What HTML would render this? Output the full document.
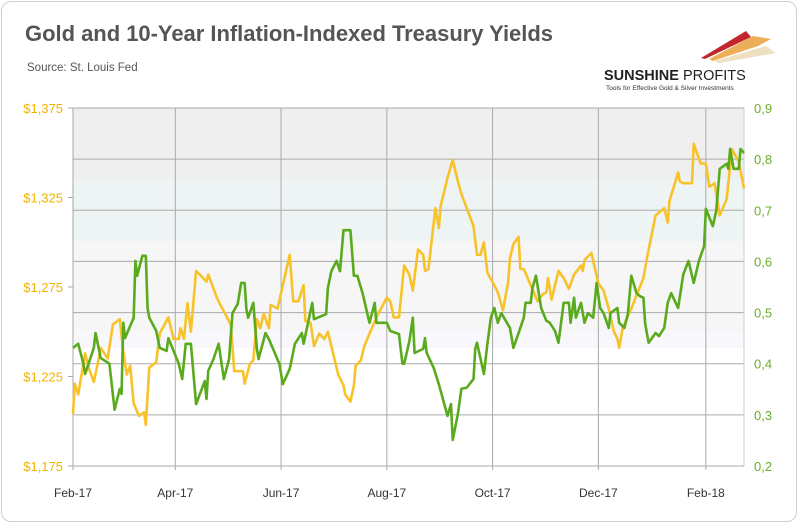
<!DOCTYPE html>
<html><head><meta charset="utf-8"><style>
body{margin:0;background:#fff;font-family:"Liberation Sans",sans-serif}
#card{position:absolute;left:1px;top:1px;width:796px;height:521px;border:1px solid #cfcfcf;border-radius:10px;box-sizing:border-box;overflow:hidden}
</style></head><body>
<div id="card">
<svg width="800" height="525" style="position:absolute;left:-1px;top:-1px">
<text x="24" y="40" font-size="22" font-weight="bold" fill="#555" textLength="528">Gold and 10-Year  Inflation-Indexed Treasury Yields</text>
<text x="26" y="70" font-size="11.5" fill="#555">Source: St. Louis Fed</text>
<g>
<polygon points="700,57 745,30 750,36 704,58" fill="#c0262c"/>
<polygon points="708,58 752,35 770,38 757,45 712,60" fill="#e9a03a" opacity="0.85"/>
<polygon points="714,60 765,45 775,52 718,62" fill="#e8d8b0" opacity="0.8"/>
<text x="603" y="79" font-size="14.5" font-weight="bold" fill="#222">SUNSHINE <tspan font-weight="normal">PROFITS</tspan></text>
<text x="605" y="89" font-size="6.5" fill="#333">Tools for Effective Gold &amp; Silver Investments</text>
</g>
<g id="bands"></g><g id="grid"></g><g id="axes"></g><g id="series"></g>
</svg></div>
<script>
const goldDays=[0,1,3,7,9,12,14,16,20,23,27,29,31,33,35,38,41,42,44,48,50,55,58,61,62,64,66,68,71,77,78,83,85,91,93,98,99,102,104,106,108,110,113,114,118,121,125,127,130,133,134,137,139,142,145,147,153,156,157,160,162,163,166,168,171,176,181,183,185,188,191,194,196,199,202,203,205,209,211,212,216,219,222,224,231,233,235,237,239,243,245,248,251,252,254,257,258,260,268,271,273,274,276,280,283,286,289,293,294,295,299,303,306,309,312,314,315,317,322,329,331,336,341,343,344,349,350,352,357,358,362,365,367,370,373,377,380,384,387];
const goldValues=[1204,1221,1215,1238,1230,1222,1231,1241,1235,1254,1257,1239,1226,1231,1210,1203,1205,1198,1230,1233,1249,1258,1246,1246,1252,1246,1266,1250,1284,1278,1282,1269,1265,1254,1228,1228,1221,1232,1234,1257,1252,1260,1252,1265,1263,1276,1293,1267,1267,1276,1256,1255,1242,1249,1246,1250,1226,1220,1215,1211,1220,1231,1234,1242,1249,1260,1269,1267,1258,1258,1287,1282,1273,1296,1293,1284,1285,1319,1308,1320,1336,1346,1334,1327,1309,1293,1293,1300,1283,1276,1272,1262,1278,1291,1299,1303,1285,1285,1267,1271,1272,1280,1268,1284,1280,1274,1282,1287,1284,1290,1294,1277,1273,1263,1250,1246,1241,1252,1263,1280,1291,1315,1319,1311,1323,1339,1334,1333,1333,1355,1344,1344,1331,1333,1315,1324,1352,1345,1330];
const yieldDays=[0,3,6,7,9,12,13,16,21,24,27,28,29,30,35,36,37,40,42,43,44,48,50,54,55,58,61,63,65,68,71,76,77,78,81,84,87,90,92,95,97,99,100,101,104,106,107,111,113,119,121,125,128,132,133,138,139,146,147,149,152,154,156,160,162,164,167,169,171,174,175,181,183,188,190,191,194,196,197,202,203,204,208,211,216,218,219,222,224,227,231,232,233,237,239,241,243,245,247,252,254,257,260,261,264,265,267,270,273,275,278,280,283,286,287,289,290,293,295,297,300,301,302,304,306,309,310,314,315,318,320,322,325,327,329,330,332,336,338,341,343,345,349,352,355,357,358,361,364,365,369,371,373,377,378,379,381,384,385,387];
const yieldValues=[0.431,0.439,0.400,0.380,0.400,0.431,0.460,0.411,0.400,0.310,0.351,0.341,0.480,0.450,0.490,0.601,0.572,0.611,0.611,0.509,0.490,0.464,0.431,0.425,0.450,0.425,0.400,0.370,0.439,0.439,0.321,0.366,0.331,0.386,0.409,0.439,0.370,0.409,0.499,0.517,0.558,0.558,0.507,0.490,0.519,0.431,0.409,0.460,0.448,0.400,0.360,0.390,0.439,0.460,0.439,0.519,0.487,0.497,0.548,0.581,0.601,0.581,0.661,0.661,0.572,0.572,0.538,0.509,0.480,0.519,0.480,0.480,0.464,0.458,0.400,0.400,0.444,0.490,0.421,0.429,0.450,0.421,0.392,0.360,0.298,0.321,0.251,0.302,0.351,0.353,0.370,0.429,0.441,0.380,0.439,0.490,0.509,0.480,0.499,0.470,0.431,0.460,0.490,0.519,0.519,0.548,0.572,0.509,0.484,0.480,0.464,0.441,0.519,0.519,0.480,0.529,0.490,0.519,0.480,0.499,0.490,0.523,0.558,0.509,0.499,0.470,0.499,0.509,0.480,0.470,0.497,0.572,0.538,0.532,0.529,0.478,0.441,0.460,0.454,0.470,0.519,0.538,0.509,0.575,0.601,0.572,0.558,0.601,0.630,0.703,0.669,0.699,0.781,0.791,0.781,0.820,0.781,0.781,0.820,0.812];
const goldTicks=[1175,1225,1275,1325,1375];
const goldTickLabels=["$1,175","$1,225","$1,275","$1,325","$1,375"];
const yieldTicks=[0.2,0.3,0.4,0.5,0.6,0.7,0.8,0.9];
const yieldTickLabels=["0,2","0,3","0,4","0,5","0,6","0,7","0,8","0,9"];
const monthDays=[0,59,120,181,242,303,365];
const monthLabels=["Feb-17","Apr-17","Jun-17","Aug-17","Oct-17","Dec-17","Feb-18"];

const L=72,R=743,T=107,B=465,NS="http://www.w3.org/2000/svg";
const x=d=>L+d/387*(R-L);
const yG=v=>B-(v-1175)/200*(B-T);
const yY=v=>B-(v-0.2)/0.7*(B-T);
function mk(tag,attrs,parent,text){const e=document.createElementNS(NS,tag);for(const k in attrs)e.setAttribute(k,attrs[k]);if(text!==undefined)e.textContent=text;document.getElementById(parent).appendChild(e);return e;}
// background bands
[[107,177,"#efefef"],[177,240,"#eef3f3"],[240,330,"#f6f6f6"],[330,347,"#f7f7fc"]].forEach(b=>{
 const r=mk("rect",{x:L,y:b[0],width:R-L,height:b[1]-b[0],fill:b[2]},"bands");
 
 
});
yieldTicks.forEach((v,i)=>{
 const g=mk("line",{x1:L,x2:R,y1:yY(v),y2:yY(v),stroke:"#aaa","stroke-width":1},"grid");
 
 
 const t=mk("text",{x:753,y:yY(v)+5,"font-size":13,fill:"#6aae2a"},"axes",yieldTickLabels[i]);
 
 
});
monthDays.forEach((d,i)=>{
 const g=mk("line",{x1:x(d),x2:x(d),y1:T,y2:B+4,stroke:"#aaa","stroke-width":1},"grid");
 
 
 const t=mk("text",{x:x(d),y:496,"font-size":12,fill:"#333","text-anchor":"middle"},"axes",monthLabels[i]);
 
 
});
const rb=mk("line",{x1:R,x2:R,y1:T,y2:B,stroke:"#ccc"},"grid");


goldTicks.forEach((v,i)=>{
 const tk=mk("line",{x1:L-5,x2:L,y1:yG(v),y2:yG(v),stroke:"#aaa"},"axes");
 
 
 const t=mk("text",{x:62,y:yG(v)+5,"font-size":13,fill:"#f0b400","text-anchor":"end"},"axes",goldTickLabels[i]);
 
 
});
const gp=mk("polyline",{points:goldDays.map((d,i)=>x(d)+","+yG(goldValues[i])).join(" "),fill:"none",stroke:"#f8c22a","stroke-width":2.6,"stroke-linejoin":"round"},"series");


const yp=mk("polyline",{points:yieldDays.map((d,i)=>x(d)+","+yY(yieldValues[i])).join(" "),fill:"none",stroke:"#5aaa1e","stroke-width":2.6,"stroke-linejoin":"round"},"series");


</script>
</body></html>
